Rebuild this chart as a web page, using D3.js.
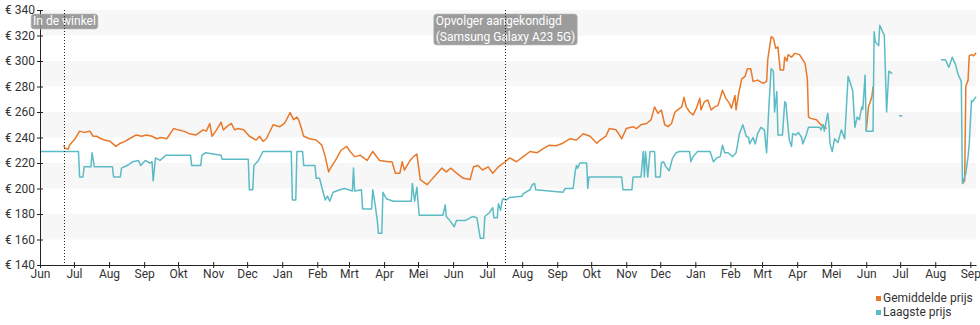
<!DOCTYPE html>
<html>
<head>
<meta charset="utf-8">
<script src="https://cdn.jsdelivr.net/npm/d3@7"></script>
<style>
  html, body { margin: 0; padding: 0; background: #fff; }
  svg { display: block; font-family: Roboto, "Noto Sans", sans-serif; }
</style>
</head>
<body>
<svg id="chart" width="980" height="325"></svg>
<script>
// Price history: day offsets from the first day, prices in euro (null = no data)
const startDate = "2021-06-01";
const endDate = "2023-09-06";
const monthNames = ["Jan", "Feb", "Mrt", "Apr", "Mei", "Jun", "Jul", "Aug", "Sep", "Okt", "Nov", "Dec"];
const yTicks = [140, 160, 180, 200, 220, 240, 260, 280, 300, 320, 340];
const seriesNames = ["Gemiddelde prijs", "Laagste prijs"];
const seriesColors = ["#e8792a", "#5cbcc5"];

const eventDates = ["2021-06-22", "2022-07-17"];
const eventLabels = [["In de winkel"], ["Opvolger aangekondigd", "(Samsung Galaxy A23 5G)"]];

const lowDays = [0, 34, 35, 38, 39, 45, 46, 48, 64, 65, 71, 72, 77, 82, 87, 89, 93, 97, 99, 100,
  102, 106, 111, 133, 134, 142, 143, 146, 160, 161, 184, 185, 188, 189, 193, 197, 222, 223, 226, 227,
  232, 233, 243, 244, 247, 249, 252, 254, 256, 259, 265, 269, 276, 277, 278, 284, 285, 293, 294, 296,
  298, 299, 302, 303, 306, 312, 328, 329, 331, 333, 335, 356, 358, 359, 362, 366, 368, 376, 380, 382,
  386, 389, 392, 393, 397, 400, 401, 404, 405, 407, 408, 409, 412, 415, 426, 427, 433, 435, 437, 438,
  450, 462, 464, 471, 473, 474, 475, 477, 483, 484, 485, 514, 515, 523, 524, 531, 533, 534, 535, 537,
  539, 543, 544, 548, 549, 551, 553, 556, 558, 559, 562, 565, 574, 575, 577, 581, 592, 595, 598, 601,
  603, 605, 608, 612, 615, 618, 621, 624, 626, 627, 630, 632, 634, 637, 640, 642, 644, 646, 648, 649,
  651, 652, 656, 658, 659, 662, 664, 665, 668, 670, 673, 674, 677, 679, 689, 690, 692, 693, 696, 697,
  698, 700, 702, 705, 708, 711, 714, 718, 720, 722, 724, 726, 727, 729, 730, 736, 737, 738, 741, 742,
  746, 748, 750, 753, 754, 759, 762, 763, 796, 800, 803, 806, 809, 811, 814, 815, 818, 820, 821, 823,
  824, 827];
const lowPrices = [229, 229, 209, 209, 217, 217, 228, 217, 217, 209, 209, 216, 218, 221, 222, 218, 222, 220, 221, 206,
  224, 222, 226, 226, 218, 218, 226, 228, 226, 223, 223, 199, 199, 218, 222, 229, 229, 191, 191, 229,
  229, 218, 218, 208, 208, 201, 191, 194, 190, 197, 199, 200, 198, 216, 198, 199, 184, 184, 199, 188,
  175, 165, 165, 197, 192, 190, 190, 204, 190, 201, 179, 179, 187, 178, 175, 170, 175, 175, 177, 178,
  177, 161, 161, 178, 181, 185, 177, 177, 188, 183, 189, 192, 191, 193, 194, 196, 199, 203, 204, 199,
  198, 197, 200, 200, 214, 218, 216, 220, 220, 200, 209, 209, 199, 199, 209, 209, 229, 209, 229, 209,
  229, 229, 209, 209, 220, 221, 217, 214, 221, 224, 228, 229, 229, 221, 225, 229, 229, 221, 224, 225,
  234, 228, 228, 225, 228, 243, 250, 241, 240, 235, 240, 235, 243, 248, 246, 228, 264, 294, 292, 260,
  276, 242, 242, 268, 267, 238, 233, 243, 242, 244, 240, 235, 242, 248, 248, 246, 250, 245, 259, 251,
  235, 229, 239, 236, 246, 239, 288, 277, 248, 256, 254, 264, 262, 289, 245, 245, 323, 315, 312, 328,
  320, 260, 292, 290, null, 257, 257, null, 301, 301, 295, 303, 297, 290, 284, 204, 212, 225, 235, 269,
  268, 272];

const avgDays = [21, 22, 25, 26, 31, 35, 39, 44, 47, 50, 54, 57, 62, 67, 71, 75, 79, 85, 90, 94,
  99, 103, 107, 112, 118, 122, 127, 132, 138, 144, 147, 150, 152, 156, 160, 162, 165, 169, 172, 175,
  180, 185, 191, 194, 197, 200, 206, 212, 216, 221, 224, 227, 229, 233, 238, 244, 249, 252, 255, 256,
  261, 266, 271, 274, 278, 283, 289, 294, 300, 308, 311, 314, 318, 320, 322, 327, 330, 333, 336, 342,
  344, 350, 355, 359, 363, 368, 374, 380, 383, 387, 391, 396, 400, 405, 411, 415, 421, 427, 433, 439,
  445, 450, 456, 462, 468, 474, 480, 486, 492, 495, 500, 503, 509, 514, 518, 524, 527, 531, 536, 540,
  543, 546, 549, 552, 555, 558, 561, 564, 567, 569, 571, 574, 577, 580, 583, 584, 587, 590, 593, 596,
  599, 603, 606, 609, 611, 614, 615, 617, 620, 623, 625, 628, 630, 634, 639, 642, 643, 646, 648, 650,
  652, 654, 657, 658, 660, 661, 664, 667, 671, 674, 676, 678, 679, 681, 686, 690, 693, 695, 696, 730,
  732, 735, 736, 737, 815, 817, 818, 820, 821, 823, 825, 827];
const avgPrices = [234, 231.5, 231, 234, 239, 245, 244, 245, 241, 241, 239, 238, 237, 233, 235.5, 237, 239, 242, 241, 242,
  241, 239, 240, 239, 247, 246, 245, 243, 242, 246, 245, 251, 241, 246, 252, 246, 248.5, 251, 246, 247,
  246, 241, 238, 241, 237, 239, 250, 248.5, 251, 259.5, 254, 256, 253, 241, 239, 238, 234, 225, 213, 215,
  222, 230, 233, 229, 225, 226, 222, 229, 222, 221, 221, 212, 212, 221, 214.5, 222, 225, 227, 207, 203,
  205, 211, 216, 213, 216, 212, 208, 207, 217, 218, 214.5, 217, 212, 217, 221, 224, 221, 225, 229, 228,
  231.5, 234, 233.5, 235.5, 239, 238, 243, 241, 235.5, 238, 241, 247, 246, 239, 247, 248.5, 247, 250, 251, 254,
  264, 259, 261.6, 250, 248.5, 251, 260, 262, 264, 271.5, 264, 260, 257.6, 263, 270.7, 261.6, 268, 269.4, 261.6, 264,
  265, 277, 270.7, 267, 263, 273, 261.6, 273, 286, 288, 294, 294, 284, 285, 282.5, 284, 301, 319, 318, 310,
  311, 293, 293, 303, 300, 305, 303, 306, 305, 301, 298, 286, 256, 255, 254, 250, 248.5, 247, null, 245,
  264, 272, 280, null, 204, 206, 280, 285, 304, 305, 304, 306.5];

const parseDate = d3.timeParse("%Y-%m-%d");
const start = parseDate(startDate);
const dayToDate = d => new Date(start.getTime() + d * 864e5);

const avgData = avgDays.map((d, i) => ({ date: dayToDate(d), v: avgPrices[i] }));
const lowData = lowDays.map((d, i) => ({ date: dayToDate(d), v: lowPrices[i] }));

const svg = d3.select("#chart");
const plot = { left: 40, right: 976, top: 10, bottom: 265 };

const x = d3.scaleTime()
  .domain([start, parseDate(endDate)])
  .range([plot.left, plot.right]);
const y = d3.scaleLinear()
  .domain([140, 340])
  .range([plot.bottom, plot.top]);

// Alternating horizontal bands
const bands = yTicks.slice(0, -1).filter((t, i) => i % 2 === 1);
svg.append("g").selectAll("rect").data(bands).join("rect")
  .attr("x", plot.left)
  .attr("width", plot.right - plot.left)
  .attr("y", d => y(d + 20))
  .attr("height", d => y(d) - y(d + 20))
  .attr("fill", "#f7f7f7");

// Price lines
const line = d3.line()
  .defined(d => d.v != null)
  .x(d => x(d.date))
  .y(d => y(d.v));

[avgData, lowData].forEach((data, i) => {
  svg.append("path")
    .datum(data)
    .attr("d", line)
    .attr("fill", "none")
    .attr("stroke", seriesColors[i])
    .attr("stroke-width", 1.5)
    .attr("stroke-linejoin", "round");
});

// Axes
const xAxis = svg.append("g")
  .attr("transform", `translate(0,${plot.bottom})`)
  .call(d3.axisBottom(x)
    .ticks(d3.timeMonth.every(1))
    .tickFormat(d => monthNames[d.getMonth()])
    .tickSizeInner(3)
    .tickSizeOuter(0)
    .tickPadding(1));
xAxis.selectAll(".tick line").attr("y1", -3);

const yAxis = svg.append("g")
  .attr("transform", `translate(${plot.left},0)`)
  .call(d3.axisLeft(y)
    .tickValues(yTicks)
    .tickFormat(v => "€ " + v)
    .tickSizeInner(3)
    .tickSizeOuter(0)
    .tickPadding(2));
yAxis.selectAll(".tick line").attr("x1", 3);

[xAxis, yAxis].forEach(g => {
  g.attr("font-family", null).attr("font-size", 12);
  g.select(".domain").attr("stroke", "#222");
  g.selectAll(".tick line").attr("stroke", "#222");
  g.selectAll(".tick text").attr("fill", "#333");
});

// Event markers with labels
const events = svg.append("g");
eventDates.forEach((ds, i) => {
  const ex = Math.round(x(parseDate(ds))) + 0.5;
  const g = events.append("g");
  const box = g.append("rect");
  const txt = g.append("text")
    .attr("fill", "#fff")
    .attr("font-size", 12);
  eventLabels[i].forEach((t, j) => {
    txt.append("tspan").attr("x", 0).attr("y", 25 + j * 16).text(t);
  });
  const bb = txt.node().getBBox();
  const w = bb.width + 4;
  const x0 = ex - w / 2;
  txt.attr("transform", `translate(${x0 + 2},0)`);
  box.attr("x", x0).attr("y", 14)
    .attr("width", w).attr("height", bb.height + 1)
    .attr("rx", 3)
    .attr("fill", "#8f8f8f").attr("fill-opacity", 0.88)
    .attr("stroke", "#bdbdbd").attr("stroke-width", 0.6);
  g.append("line")
    .attr("x1", ex).attr("x2", ex)
    .attr("y1", plot.top).attr("y2", plot.bottom)
    .attr("stroke", "#222").attr("stroke-width", 1)
    .attr("stroke-dasharray", "1,2");
});

// Legend
const legend = svg.append("g").attr("font-size", 12);
seriesNames.forEach((name, i) => {
  const ly = 302 + i * 14;
  legend.append("rect")
    .attr("x", 876).attr("y", ly - 6)
    .attr("width", 5).attr("height", 5)
    .attr("fill", seriesColors[i]);
  legend.append("text")
    .attr("x", 883).attr("y", ly)
    .attr("fill", "#333")
    .text(name);
});
</script>
</body>
</html>
